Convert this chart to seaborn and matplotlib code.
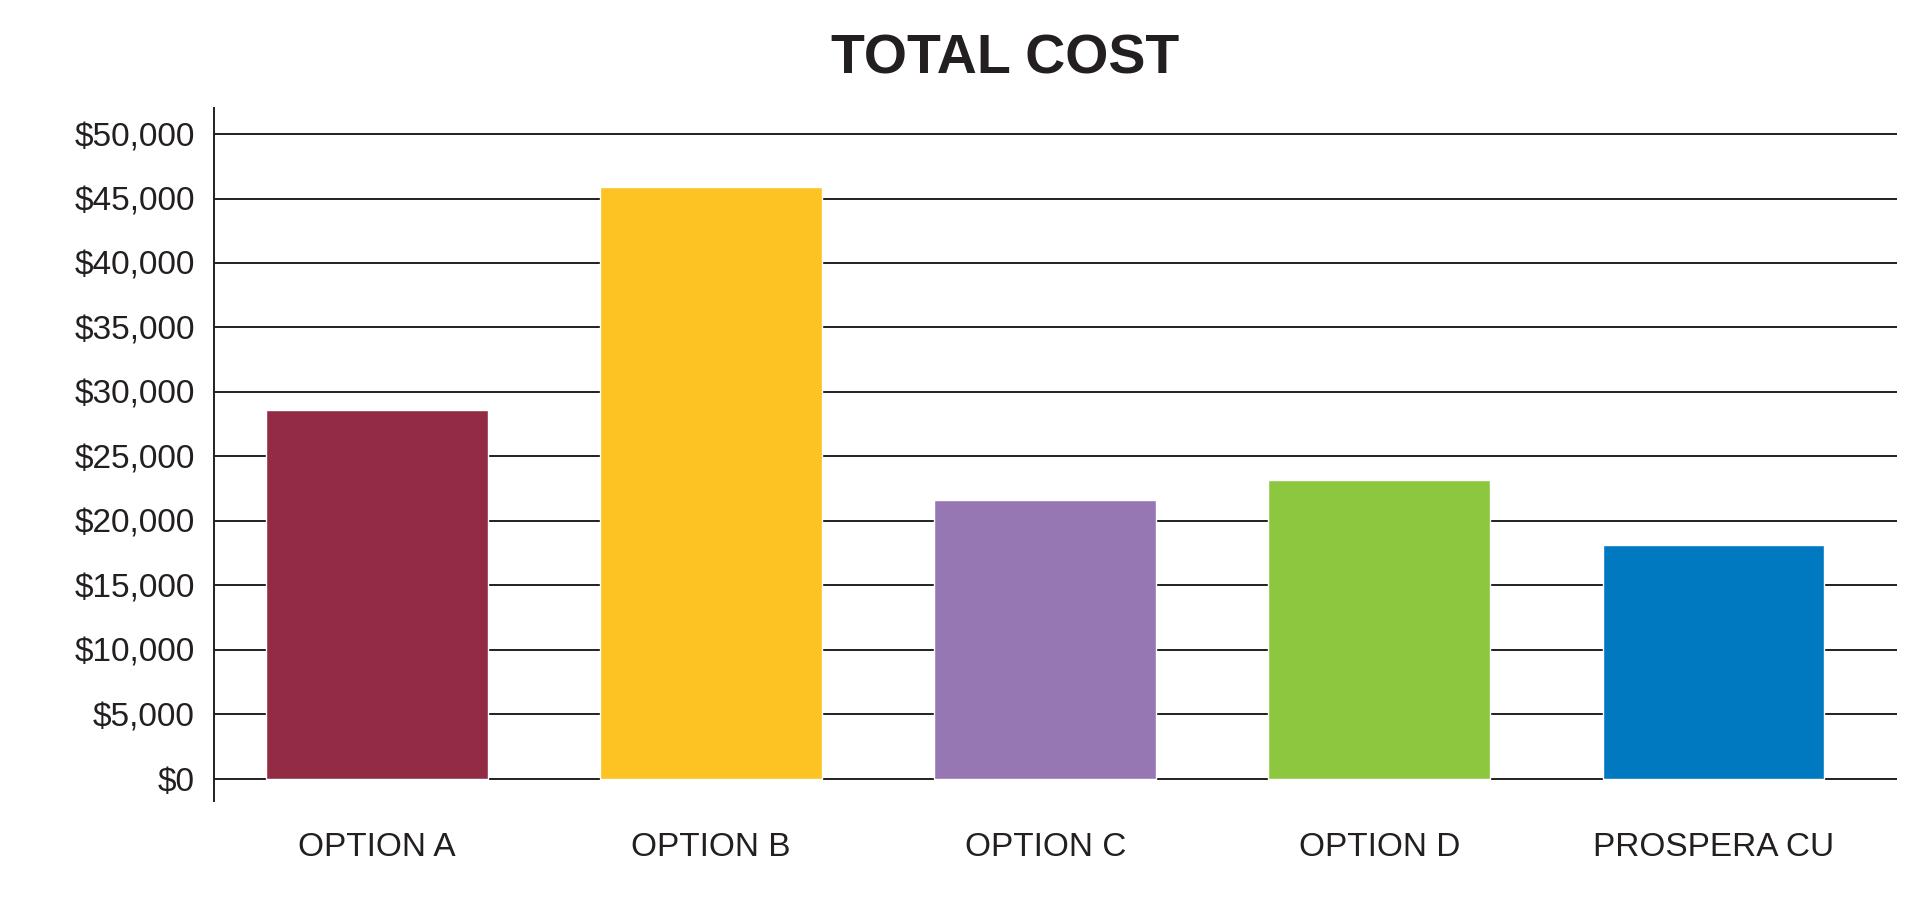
import matplotlib
matplotlib.use("Agg")
import matplotlib.pyplot as plt
import seaborn as sns
import pandas as pd
from matplotlib.ticker import FuncFormatter

categories = ["OPTION A", "OPTION B", "OPTION C", "OPTION D", "PROSPERA CU"]
values = [28600, 45900, 21600, 23200, 18100]
colors = ["#922C45", "#FDC322", "#9677B4", "#8DC63F", "#0079C1"]
yticks = list(range(0, 50001, 5000))

sns.set_theme(style="white")
plt.rcParams['font.family'] = ['Liberation Sans', 'DejaVu Sans']

fig = plt.figure(figsize=(19.32, 9.02), dpi=100)
ax = fig.add_axes([0.111, 0.112, 0.871, 0.768])
df = pd.DataFrame({"cat": categories, "val": values})
sns.barplot(data=df, x="cat", y="val", hue="cat", palette=colors, legend=False,
            width=0.664, ax=ax, saturation=1, zorder=3)
for t in yticks:
    ax.axhline(t, color="#231F20", lw=1.4, zorder=1)
ax.set_ylim(-1720, 52000)
ax.set_xlim(-0.487, 4.55)
ax.set_yticks(yticks)
ax.yaxis.set_major_formatter(FuncFormatter(lambda v, p: f"${int(v):,}"))
ax.tick_params(axis="y", labelsize=24, length=0, pad=14, colors="#231F20")
ax.tick_params(axis="x", labelsize=24, length=0, pad=22, colors="#231F20")
for s in ["top", "right", "bottom"]:
    ax.spines[s].set_visible(False)
ax.spines["left"].set_color("#231F20")
ax.spines["left"].set_linewidth(1.4)
ax.set_xlabel("")
ax.set_ylabel("")
fig.text(0.52, 0.934, "TOTAL COST", ha="center", va="center", fontsize=40,
         fontweight="bold", color="#231F20")
fig.savefig("out.png", dpi=100)
